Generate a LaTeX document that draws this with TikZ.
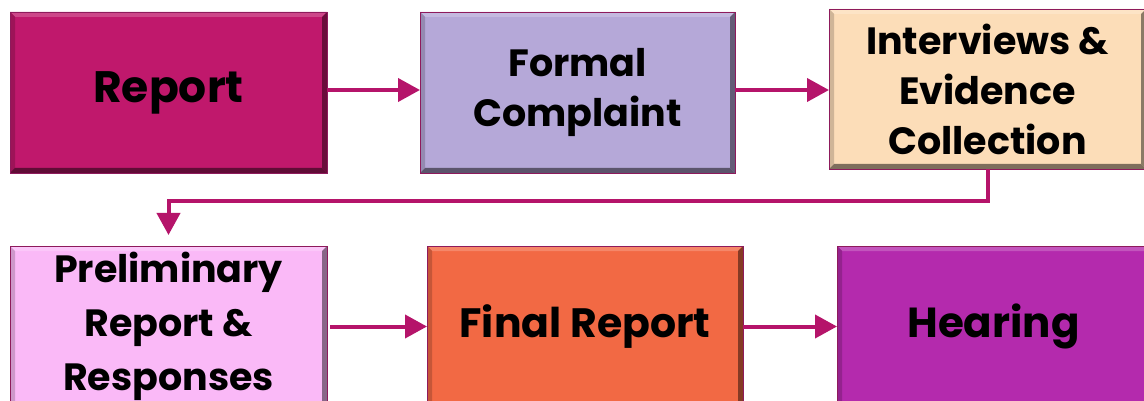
\documentclass[tikz,border=0pt]{standalone}
\usepackage{fontspec}
\setmainfont{Poppins}
\usetikzlibrary{calc,arrows.meta}
\definecolor{arrowc}{HTML}{B5146A}
\definecolor{boxedge}{HTML}{8E1A5C}
\definecolor{cReport}{HTML}{C0186C}
\definecolor{cFormal}{HTML}{B5A8D8}
\definecolor{cInter}{HTML}{FCDDB8}
\definecolor{cPrelim}{HTML}{FAB9F7}
\definecolor{cFinal}{HTML}{F26944}
\definecolor{cHear}{HTML}{B42AAD}
\tikzset{
  box/.style={draw=boxedge, line width=0.8pt, inner sep=0pt, outer sep=0pt,
    align=center, font=\bfseries, text=black},
  flow/.style={draw=arrowc, line width=4pt,
    -{Triangle[length=22pt,width=23pt]}},
}
\newcommand\bevel[2]{%
  \fill[#2!80!white] (#1.north west) -- (#1.north east) -- ($(#1.north east)+(-5,5)$) -- ($(#1.north west)+(5,5)$) -- cycle;
  \fill[#2!82!black] (#1.north west) -- (#1.south west) -- ($(#1.south west)+(5,-5)$) -- ($(#1.north west)+(5,5)$) -- cycle;
  \fill[#2!55!black] (#1.north east) -- (#1.south east) -- ($(#1.south east)+(-5,-5)$) -- ($(#1.north east)+(-5,5)$) -- cycle;
  \fill[#2!50!black] (#1.south west) -- (#1.south east) -- ($(#1.south east)+(-5,-5)$) -- ($(#1.south west)+(5,-5)$) -- cycle;
  \draw[boxedge, line width=0.8pt] (#1.north west) rectangle (#1.south east);
}
\begin{document}
\begin{tikzpicture}[x=1pt,y=-1pt]
\useasboundingbox (0,0) rectangle (1144,401);
\node[box, fill=cReport, minimum width=317pt, minimum height=161pt,
  font=\bfseries\fontsize{44}{56}\selectfont] (r) at (168.5,92.5) {Report};
\node[box, fill=cFormal, minimum width=315pt, minimum height=161pt,
  font=\bfseries\fontsize{38}{50}\selectfont] (f) at (577.5,92.5) {Formal\\Complaint};
\node[box, fill=cInter, minimum width=317pt, minimum height=160pt,
  font=\bfseries\fontsize{38}{50}\selectfont] (i) at (987.5,89) {Interviews \&\\Evidence\\Collection};
\node[box, fill=cPrelim, minimum width=317pt, minimum height=161pt,
  font=\bfseries\fontsize{38}{54}\selectfont] (p) at (168.5,326.5) {Preliminary\\Report \&\\Responses};
\node[box, fill=cFinal, minimum width=316pt, minimum height=161pt,
  font=\bfseries\fontsize{41}{52}\selectfont] (fr) at (585,326.5) {Final Report};
\node[box, fill=cHear, minimum width=313pt, minimum height=161pt,
  font=\bfseries\fontsize{42}{52}\selectfont] (h) at (993.5,326.5) {Hearing};
\bevel{r}{cReport}
\bevel{f}{cFormal}
\bevel{i}{cInter}
\bevel{p}{cPrelim}
\bevel{fr}{cFinal}
\bevel{h}{cHear}
\draw[flow] ([yshift=2.5pt]r.east) -- ([yshift=2.5pt]f.west);
\draw[flow] ([yshift=2.5pt]f.east) -- ([yshift=2.5pt]f.east -| i.west);
\draw[flow, shorten >=11pt] (i.south) -- ++(0,32) -| (p.north);
\draw[flow, shorten <=3pt] (p.east) -- (fr.west);
\draw[flow] (fr.east) -- (h.west);
\end{tikzpicture}
\end{document}
